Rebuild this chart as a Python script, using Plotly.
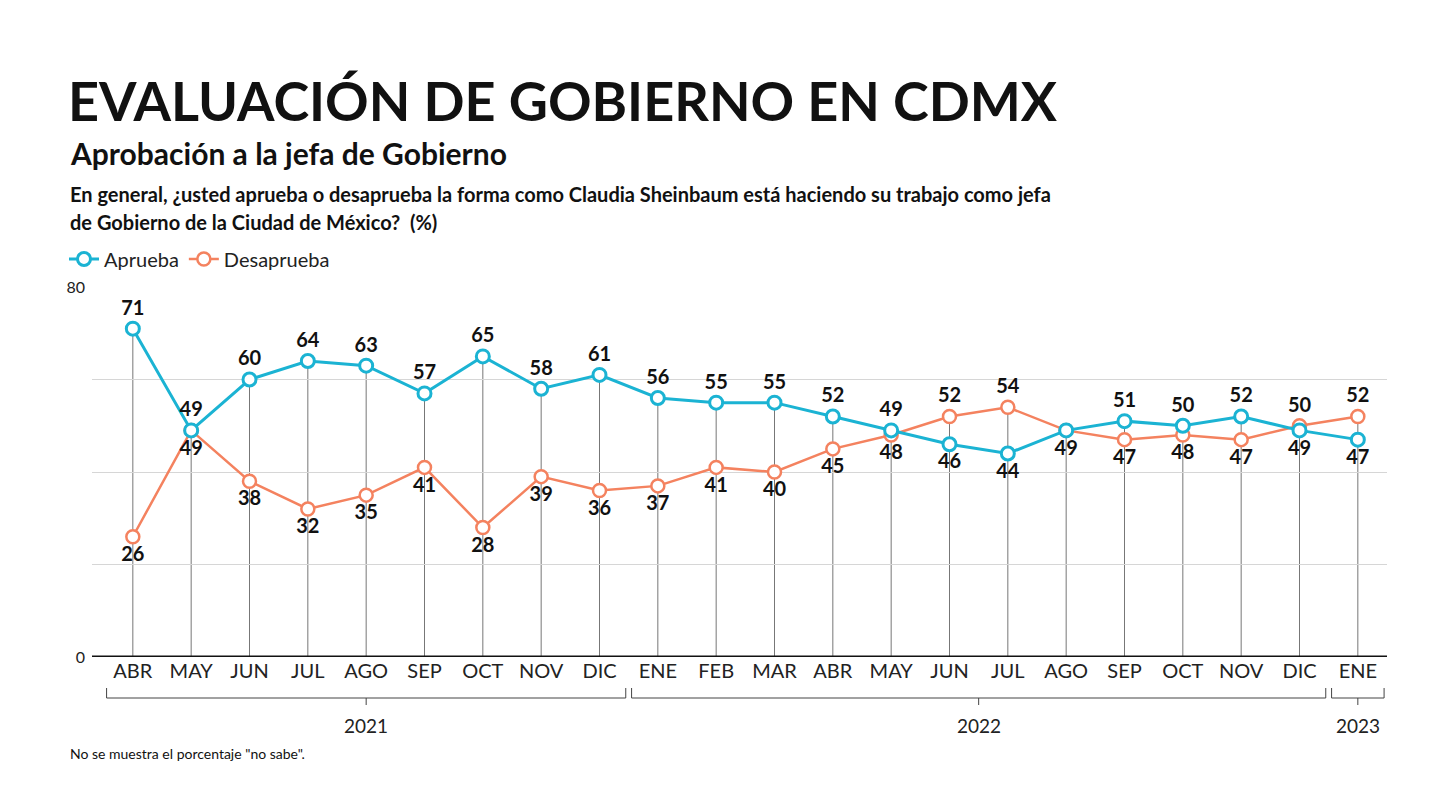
import plotly.graph_objects as go

months = ["ABR","MAY","JUN","JUL","AGO","SEP","OCT","NOV","DIC","ENE","FEB","MAR","ABR","MAY","JUN","JUL","AGO","SEP","OCT","NOV","DIC","ENE"]
aprueba = [71,49,60,64,63,57,65,58,61,56,55,55,52,49,46,44,49,51,50,52,49,47]
desaprueba = [26,49,38,32,35,41,28,39,36,37,41,40,45,48,52,54,49,47,48,47,50,52]
years = [("2021",0,8),("2022",9,20),("2023",21,21)]
hide_desap_label = [16]

x = list(range(len(months)))
BLUE = "#1bb3d3"; ORANGE = "#f4825f"
FONT = "Lato"
PL, PR, PT, PB = 84, 1379, 279, 649

def px(v): return (v - PL) / (PR - PL)
def py(v): return (PB - v) / (PB - PT)

fig = go.Figure()
for i in x:
    fig.add_shape(type="line", x0=i, x1=i, y0=0, y1=max(aprueba[i], desaprueba[i]),
                  line=dict(color="#777", width=1), layer="below")

def pos(a, b, first):
    if a > b: return "top center"
    if a < b: return "bottom center"
    return "top center" if first else "bottom center"

tp_a = [pos(aprueba[i], desaprueba[i], True) for i in x]
tp_d = [pos(desaprueba[i], aprueba[i], False) for i in x]
tp_a[16] = "bottom center"
txt_d = ["" if i in hide_desap_label else f"<b>{v}</b>" for i, v in enumerate(desaprueba)]

fig.add_trace(go.Scatter(x=x, y=desaprueba, mode="lines+markers+text", name="Desaprueba",
    line=dict(color=ORANGE, width=2.5), marker=dict(size=13, color="white", line=dict(color=ORANGE, width=2.5)),
    text=txt_d, textposition=tp_d, textfont=dict(size=20, color="#111", family=FONT)))
fig.add_trace(go.Scatter(x=x, y=aprueba, mode="lines+markers+text", name="Aprueba",
    line=dict(color=BLUE, width=3), marker=dict(size=13, color="white", line=dict(color=BLUE, width=3)),
    text=[f"<b>{v}</b>" for v in aprueba], textposition=tp_a, textfont=dict(size=20, color="#111", family=FONT)))

for name, a, b in years:
    x0, x1 = a - 0.45, b + 0.45
    xm = (x0 + x1) / 2
    fig.add_shape(type="path", xref="x", yref="paper",
        path=f"M {x0},{py(680)} L {x0},{py(690)} L {x1},{py(690)} L {x1},{py(680)}",
        line=dict(color="#444", width=1))
    fig.add_shape(type="line", xref="x", yref="paper", x0=xm, x1=xm, y0=py(690), y1=py(697),
        line=dict(color="#444", width=1))
    fig.add_annotation(x=xm, y=py(717), xref="x", yref="paper", text=name, showarrow=False,
        font=dict(size=19, color="#222", family=FONT), yanchor="middle")

def ptext(t, y, size, bold=False):
    fig.add_annotation(x=px(60), y=py(y), xref="paper", yref="paper", text=(f"<b>{t}</b>" if bold else t),
        showarrow=False, xanchor="left", yanchor="middle", font=dict(size=size, color="#111", family=FONT))

fig.update_layout(
    width=1440, height=811, paper_bgcolor="white", plot_bgcolor="white",
    margin=dict(l=PL, r=1440-PR, t=PT, b=811-PB, autoexpand=False),
    showlegend=True,
    legend=dict(orientation="h", x=px(56), y=py(251), xref="paper", yref="paper", xanchor="left", yanchor="middle",
                traceorder="reversed", font=dict(size=20, color="#222", family=FONT)),
    xaxis=dict(tickvals=x, ticktext=months, range=[-0.7, 21.5], showgrid=False, zeroline=False, automargin=False,
               ticks="", tickfont=dict(size=20, color="#222", family=FONT), fixedrange=True),
    yaxis=dict(range=[0, 80], tickvals=[0, 20, 40, 60, 80], ticktext=["0", "", "", "", "80"], automargin=False,
               showgrid=True, gridcolor="#d6d6d6", gridwidth=1, zeroline=False, ticks="",
               tickfont=dict(size=16, color="#222", family=FONT), ticklabelstandoff=6),
)
fig.add_shape(type="line", xref="paper", yref="y", x0=0, x1=1, y0=0, y1=0, line=dict(color="#111", width=3))
fig.add_annotation(x=px(58), y=py(92), xref="paper", yref="paper", text="<b>EVALUACIÓN DE GOBIERNO EN CDMX</b>",
    showarrow=False, xanchor="left", yanchor="middle", font=dict(size=54, color="#111", family=FONT))
ptext("Aprobación a la jefa de Gobierno", 145, 30, True)
ptext("En general, ¿usted aprueba o desaprueba la forma como Claudia Sheinbaum está haciendo su trabajo como jefa", 186, 20, True)
ptext("de Gobierno de la Ciudad de México?  (%)", 214, 20, True)
ptext("No se muestra el porcentaje \"no sabe\".", 745, 14)

fig.write_html("out.html")
